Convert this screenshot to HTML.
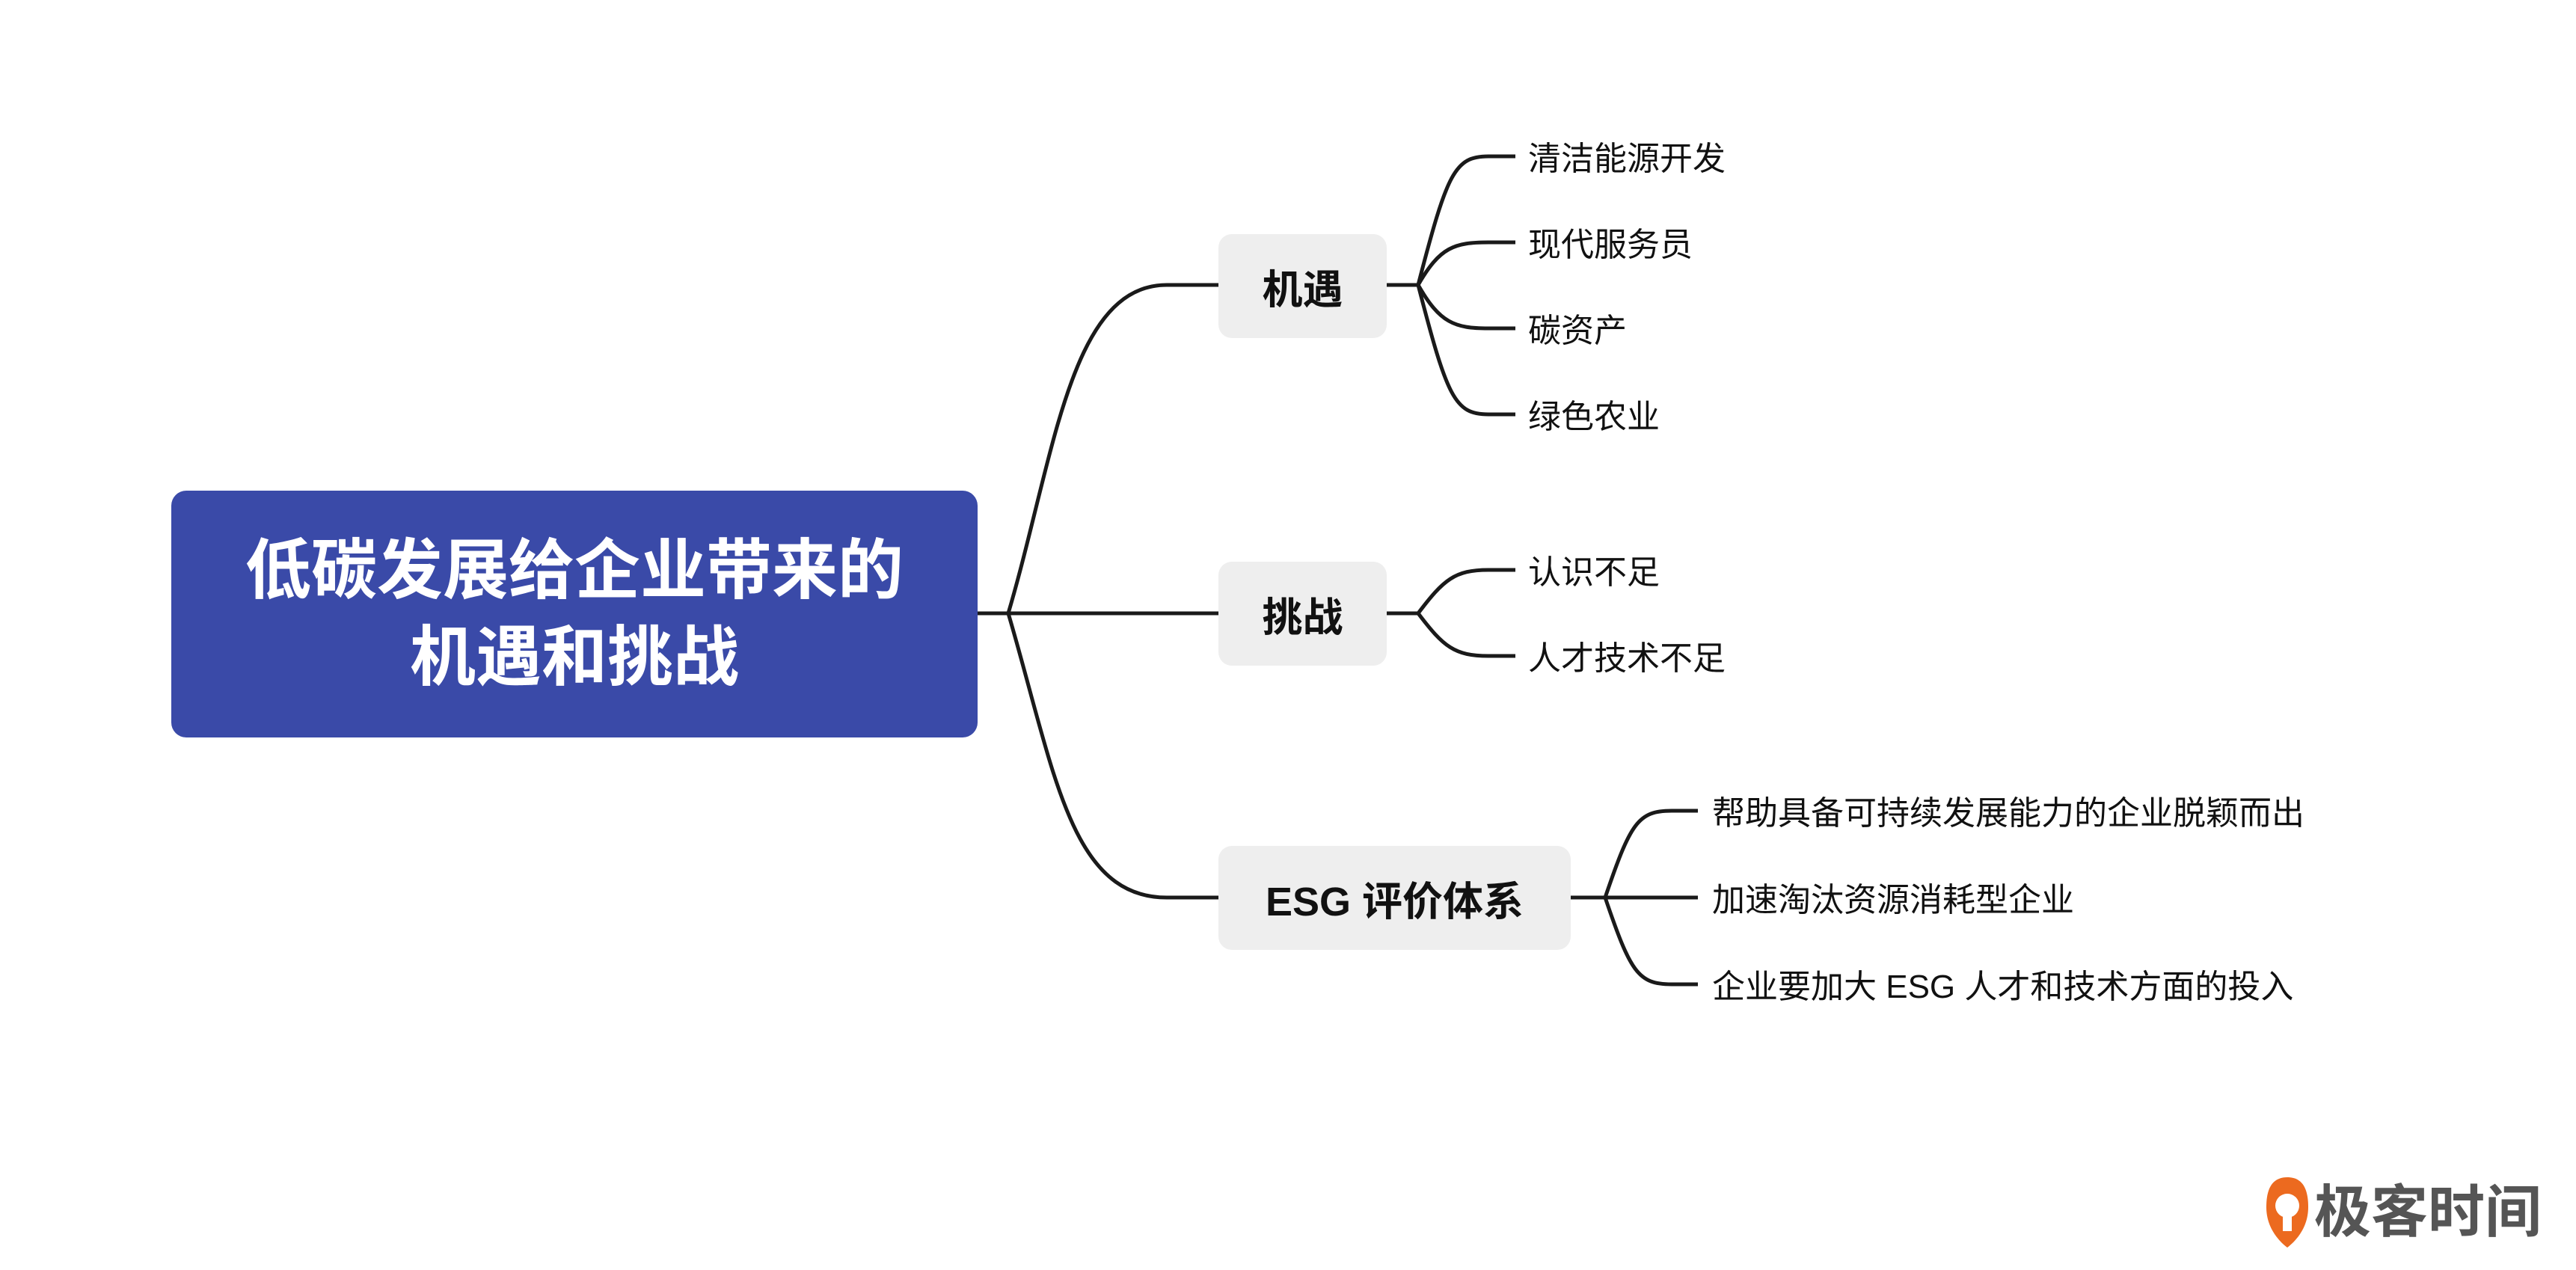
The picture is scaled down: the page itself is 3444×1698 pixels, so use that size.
<!DOCTYPE html>
<html><head><meta charset="utf-8"><style>
body{margin:0;width:3444px;height:1698px;background:#fff;position:relative;overflow:hidden;font-family:"Liberation Sans","Noto Sans CJK SC",sans-serif}
.abs{position:absolute}
.root{left:229px;top:656px;width:1078px;height:330px;background:#3a4aa8;border-radius:20px;color:#fff;font-weight:bold;font-size:88px;line-height:116px;text-align:center;display:flex;align-items:center;justify-content:center}
.b{background:#eeeeee;border-radius:18px;font-weight:bold;font-size:54px;color:#111;display:flex;align-items:center;justify-content:center}
.l{font-size:44px;color:#111;line-height:60px;white-space:nowrap}
</style></head><body>
<svg class="abs" style="left:0;top:0" width="3444" height="1698">
<g fill="none" stroke="#1a1a1a" stroke-width="5">
<path d="M1307 820 H1350"/>
<path d="M1348 820 C1410 610 1430 381 1560 381 H1630"/>
<path d="M1348 820 H1630"/>
<path d="M1348 820 C1410 1030 1430 1200 1560 1200 H1630"/>
<path d="M1854 381 H1898"/>
<path d="M1896 381 C1935 230 1945 209 1990 209 H2026"/>
<path d="M1896 381 C1925 330 1945 324 1990 324 H2026"/>
<path d="M1896 381 C1925 432 1945 439 1990 439 H2026"/>
<path d="M1896 381 C1935 532 1945 554 1990 554 H2026"/>
<path d="M1854 820 H1898"/>
<path d="M1896 820 C1930 775 1945 762 1990 762 H2026"/>
<path d="M1896 820 C1930 865 1945 877 1990 877 H2026"/>
<path d="M2100 1200 H2148"/>
<path d="M2146 1200 C2180 1100 2190 1084 2235 1084 H2270"/>
<path d="M2146 1200 H2270"/>
<path d="M2146 1200 C2180 1300 2190 1316 2235 1316 H2270"/>
</g>
<g>
<path d="M3058 1574 C3036 1574 3030 1592 3030 1614 C3030 1640 3045 1658 3058 1668 C3071 1658 3086 1640 3086 1614 C3086 1592 3080 1574 3058 1574 Z" fill="#ec6a1f"/>
<circle cx="3058" cy="1612" r="16" fill="#fff"/>
<rect x="3052" y="1612" width="12" height="34" fill="#fff"/>
</g>
</svg>
<div class="abs root">低碳发展给企业带来的<br>机遇和挑战</div>
<div class="abs b" style="left:1629px;top:313px;width:225px;height:139px">机遇</div>
<div class="abs b" style="left:1629px;top:751px;width:225px;height:139px">挑战</div>
<div class="abs b" style="left:1629px;top:1131px;width:471px;height:139px">ESG 评价体系</div>
<div class="abs l" style="left:2043px;top:183px">清洁能源开发</div>
<div class="abs l" style="left:2043px;top:298px">现代服务员</div>
<div class="abs l" style="left:2043px;top:413px">碳资产</div>
<div class="abs l" style="left:2043px;top:528px">绿色农业</div>
<div class="abs l" style="left:2043px;top:736px">认识不足</div>
<div class="abs l" style="left:2043px;top:851px">人才技术不足</div>
<div class="abs l" style="left:2289px;top:1058px">帮助具备可持续发展能力的企业脱颖而出</div>
<div class="abs l" style="left:2289px;top:1174px">加速淘汰资源消耗型企业</div>
<div class="abs l" style="left:2289px;top:1290px">企业要加大 ESG 人才和技术方面的投入</div>
<div class="abs" style="left:3094px;top:1576px;font-size:76px;font-weight:bold;color:#555;line-height:92px;white-space:nowrap">极客时间</div>
</body></html>
